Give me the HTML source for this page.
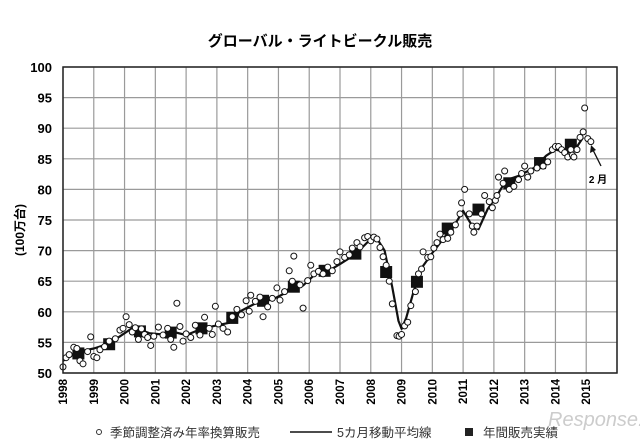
<!DOCTYPE html>
<html><head><meta charset="utf-8"><style>
body{margin:0;background:#fff;width:640px;height:443px;overflow:hidden}
svg text{font-family:"Liberation Sans","Noto Sans CJK JP",sans-serif}
</style></head><body>
<svg id="chart" width="640" height="443" xmlns="http://www.w3.org/2000/svg">
<text x="320" y="46" text-anchor="middle" font-size="15" font-weight="bold">グローバル・ライトビークル販売</text>
<g id="grid"></g>
<g id="marks"></g>
<rect x="63" y="67" width="554" height="306" fill="none" stroke="#222" stroke-width="1.5"/>
<g id="axes"></g>
<text transform="translate(24,230) rotate(-90)" text-anchor="middle" font-size="12" font-weight="bold">(100万台)</text>
<g>
<line x1="601" y1="166" x2="593" y2="150" stroke="#111" stroke-width="1.3"/>
<polygon points="591,145 590,153 596,150" fill="#111"/>
<text x="598" y="183" text-anchor="middle" font-size="10" font-weight="bold">2 月</text>
</g>
<g>
<circle cx="99" cy="432" r="2.5" fill="#fff" stroke="#333"/>
<text x="110" y="437" font-size="12.5" fill="#333">季節調整済み年率換算販売</text>
<line x1="290" y1="432" x2="332" y2="432" stroke="#111" stroke-width="1.5"/>
<text x="337" y="437" font-size="12.5" fill="#333">5カ月移動平均線</text>
<rect x="465" y="428" width="8" height="8" fill="#222"/>
<text x="483" y="437" font-size="12.5" fill="#333">年間販売実績</text>
</g>
<text x="548" y="426" font-size="20" fill="#ccc" font-style="italic">Response.</text>
</svg>
<script>
const yTicks=[50,55,60,65,70,75,80,85,90,95,100];
const xTicks=[1998,1999,2000,2001,2002,2003,2004,2005,2006,2007,2008,2009,2010,2011,2012,2013,2014,2015];
const annualYears=[1998,1999,2000,2001,2002,2003,2004,2005,2006,2007,2008,2009,2010,2011,2012,2013,2014];
const annualValues=[53.2,54.7,56.8,56.6,57.3,59.0,61.8,64.1,66.7,69.5,66.5,64.9,73.6,76.7,81.0,84.3,87.3];
const maTimes=[1998.0,1998.5,1999.0,1999.5,2000.0,2000.3,2000.8,2001.2,2001.6,2002.0,2002.5,2003.0,2003.4,2003.8,2004.3,2004.8,2005.2,2005.5,2005.8,2006.2,2006.6,2007.0,2007.5,2007.9,2008.2,2008.45,2008.7,2008.9,2009.0,2009.15,2009.4,2009.7,2010.0,2010.4,2010.7,2011.0,2011.3,2011.5,2011.8,2012.1,2012.4,2012.8,2013.3,2013.7,2014.0,2014.4,2014.7,2014.9];
const maValues=[52.0,53.5,54.0,54.8,56.5,57.5,56.5,56.3,56.7,56.2,57.2,57.8,58.2,60.2,61.5,62.0,63.0,64.7,64.3,66.2,66.6,67.8,69.4,71.4,72.0,70.0,64.0,58.5,57.2,59.0,63.5,67.5,69.6,72.2,74.0,76.5,74.0,73.5,76.8,79.0,81.5,82.2,83.5,85.5,86.5,86.0,87.0,88.5];
const scatterPoints=[[1998.0,51.0],[1998.1,52.5],[1998.2,53.0],[1998.35,54.2],[1998.45,54.0],[1998.55,52.0],[1998.65,51.5],[1998.8,53.5],[1998.9,55.9],
[1999.0,52.7],[1999.1,52.5],[1999.2,53.8],[1999.35,54.3],[1999.5,55.2],[1999.7,55.6],[1999.85,57.0],[1999.95,57.3],
[2000.05,59.2],[2000.15,57.9],[2000.25,56.7],[2000.35,57.4],[2000.45,55.5],[2000.55,57.2],[2000.65,56.3],[2000.75,55.8],[2000.85,54.5],[2000.95,56.0],
[2001.1,57.5],[2001.25,56.2],[2001.4,57.3],[2001.5,55.5],[2001.6,54.2],[2001.7,61.4],[2001.8,57.6],[2001.9,55.2],
[2002.0,56.4],[2002.15,55.8],[2002.3,57.8],[2002.45,56.2],[2002.6,59.1],[2002.75,57.3],[2002.85,56.3],[2002.95,60.9],
[2003.05,58.0],[2003.2,57.3],[2003.35,56.7],[2003.5,59.2],[2003.65,60.4],[2003.8,59.5],[2003.95,61.8],
[2004.05,60.1],[2004.1,62.7],[2004.25,61.7],[2004.4,62.4],[2004.5,59.2],[2004.65,60.8],[2004.8,62.2],[2004.95,63.9],
[2005.05,61.9],[2005.2,63.3],[2005.35,66.7],[2005.45,65.0],[2005.5,69.1],[2005.7,64.4],[2005.8,60.6],[2005.95,65.1],
[2006.05,67.6],[2006.15,66.2],[2006.3,66.6],[2006.45,66.2],[2006.6,67.3],[2006.75,66.7],[2006.9,68.2],
[2007.0,69.8],[2007.15,68.9],[2007.3,69.3],[2007.4,70.4],[2007.55,71.3],[2007.65,70.6],[2007.8,72.1],[2007.9,72.3],
[2008.0,71.6],[2008.1,72.2],[2008.2,71.9],[2008.3,70.5],[2008.4,69.0],[2008.5,67.6],[2008.6,65.0],[2008.7,61.3],[2008.85,56.1],[2008.92,56.0],
[2009.0,56.3],[2009.1,57.7],[2009.2,58.3],[2009.3,61.0],[2009.45,63.3],[2009.55,66.2],[2009.65,67.0],[2009.7,69.8],[2009.85,68.9],[2009.95,69.0],
[2010.05,70.4],[2010.15,71.3],[2010.25,72.7],[2010.35,71.8],[2010.5,72.0],[2010.6,73.0],[2010.75,74.2],[2010.9,76.0],[2010.95,77.8],
[2011.05,80.0],[2011.2,76.0],[2011.3,74.0],[2011.35,73.0],[2011.45,74.0],[2011.6,76.0],[2011.7,79.0],[2011.85,78.0],[2011.95,77.0],
[2012.05,78.2],[2012.1,79.0],[2012.15,82.0],[2012.3,81.0],[2012.35,83.0],[2012.5,80.0],[2012.65,80.5],[2012.8,81.6],[2012.9,82.6],
[2013.0,83.8],[2013.1,82.0],[2013.2,83.0],[2013.4,83.5],[2013.6,83.8],[2013.75,84.5],[2013.9,86.5],
[2014.0,87.0],[2014.1,87.0],[2014.2,86.5],[2014.3,86.0],[2014.4,85.3],[2014.5,86.5],[2014.55,85.6],[2014.6,85.3],[2014.7,86.5],[2014.8,88.5],[2014.9,89.4],[2014.95,93.3],
[2015.05,88.3],[2015.15,87.8]];
const NS="http://www.w3.org/2000/svg";
const X0=63,X1=617,Y0=373,Y1=67;
function xs(t){return X0+(t-1998)/(2016-1998)*(X1-X0);}
function ys(v){return Y0-(v-50)/(100-50)*(Y0-Y1);}
function mk(tag,attrs,parent){const e=document.createElementNS(NS,tag);for(const k in attrs)e.setAttribute(k,attrs[k]);parent.appendChild(e);return e;}
const grid=document.getElementById('grid'),axes=document.getElementById('axes'),marks=document.getElementById('marks');
yTicks.forEach(v=>{
 const l=mk('line',{x1:X0,x2:X1,y1:ys(v),y2:ys(v),stroke:'#9a9a9a','stroke-width':1.2},grid);
 
 
 const t=mk('text',{x:52,y:ys(v)+5,'text-anchor':'end','font-size':13,'font-weight':'bold'},axes);
 
 
 t.textContent=v;
});
for(let yr=1998;yr<=2016;yr++){
 const l=mk('line',{x1:xs(yr),x2:xs(yr),y1:Y0,y2:Y1,stroke:'#9a9a9a','stroke-width':1.2},grid);
 
 
}
xTicks.forEach(yr=>{
 const t=mk('text',{transform:`translate(${xs(yr)+4},379) rotate(-90)`,'text-anchor':'end','font-size':11.5,'font-weight':'bold'},axes);
 
 
 t.textContent=yr;
});
const pts=maTimes.map((t,i)=>xs(t).toFixed(1)+','+ys(maValues[i]).toFixed(1)).join(' ');
const pl=mk('polyline',{points:pts,fill:'none',stroke:'#111','stroke-width':2.2,'stroke-linejoin':'round'},marks);


annualYears.forEach((yr,i)=>{
 const r=mk('rect',{x:xs(yr+0.5)-6,y:ys(annualValues[i])-6,width:12,height:12,fill:'#111'},marks);
 
 
});
scatterPoints.forEach(p=>{
 const c=mk('circle',{cx:xs(p[0]),cy:ys(p[1]),r:3,fill:'#fff',stroke:'#111','stroke-width':1},marks);
 
 
});
</script>
</body></html>
